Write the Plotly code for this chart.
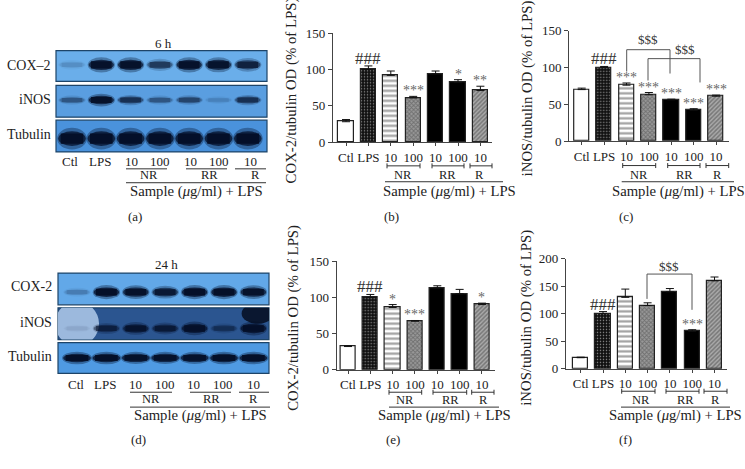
import plotly.graph_objects as go

W, H = 745, 469
FONT = "Liberation Serif"

# ---- data ----
lanes = ["Ctl", "LPS", "10", "100", "10", "100", "10"]
cox2_6h = [28, 100, 92, 61, 94, 82, 71]
cox2_6h_err = [3, 5, 6, 2, 4, 4, 6]
cox2_6h_sig = ["", "###", "", "***", "", "*", "**"]
inos_6h = [70, 100, 76, 63, 56, 42, 61]
inos_6h_err = [2, 1.5, 3, 3, 1, 2, 1.5]
inos_6h_sig = ["", "###", "***", "***", "***", "***", "***"]
cox2_24h = [32, 100, 86, 67, 113, 105, 90]
cox2_24h_err = [1, 4, 4, 1, 3, 6, 2]
cox2_24h_sig = ["", "###", "*", "***", "", "", "*"]
inos_24h = [20, 100, 130, 115, 140, 68, 160]
inos_24h_err = [1, 4, 15, 5, 6, 3, 7]
inos_24h_sig = ["", "###", "", "", "", "***", ""]

# band strength per lane, read from the blots
blot_6h_cox2 = [0.1, 0.95, 0.95, 0.5, 0.95, 0.9, 0.7]
blot_6h_inos = [0.3, 0.95, 0.55, 0.3, 0.4, 0.1, 0.55]
blot_6h_tub = [1, 1, 1, 1, 1, 1, 1]
blot_24h_cox2 = [0.15, 1, 0.95, 0.8, 1, 1, 0.95]
blot_24h_inos = [0.05, 0.55, 0.8, 0.65, 0.95, 0.35, 1]
blot_24h_tub = [1, 1, 0.95, 0.95, 0.95, 1, 1]

fig = go.Figure()
shapes, annos = [], []
ax_n = [0]
layout_axes = {}


def X(p):
    return p / W


def Y(p):
    return 1 - ((p - 6) / 0.975) / H


def txt(px, py, s, size=13, color="#222", angle=0, xanchor="center"):
    annos.append(dict(x=X(px), y=Y(py), xref="paper", yref="paper", text=s, showarrow=False,
                      font=dict(family=FONT, size=size, color=color), textangle=angle,
                      xanchor=xanchor, yanchor="middle", borderpad=0))


def seg(x0, y0, x1, y1, color="#333", width=1):
    shapes.append(dict(type="line", xref="paper", yref="paper", x0=X(x0), x1=X(x1),
                       y0=Y(y0), y1=Y(y1), line=dict(color=color, width=width)))


def strip(strengths, lane0, spacing, left, right, top, bottom, bg, thick=0.15, halfw=0.43,
          band="#040f28", cy=0.52, patches=()):
    ax_n[0] += 1
    n = ax_n[0]
    sx = "" if n == 1 else str(n)
    xr = [(left - lane0) / spacing, (right - lane0) / spacing]
    layout_axes[f"xaxis{sx}"] = dict(domain=[X(left), X(right)], range=xr, visible=False, anchor=f"y{sx}")
    layout_axes[f"yaxis{sx}"] = dict(domain=[Y(bottom), Y(top)], range=[0, 1], visible=False, anchor=f"x{sx}")
    xref, yref = f"x{sx}", f"y{sx}"
    fig.add_trace(go.Scatter(x=list(range(len(strengths))), y=[cy] * len(strengths), mode="markers",
                             marker=dict(opacity=0), xaxis=xref, yaxis=yref, showlegend=False,
                             hoverinfo="skip"))
    shapes.append(dict(type="rect", xref=f"{xref} domain", yref=f"{yref} domain", x0=0, x1=1, y0=0, y1=1,
                       fillcolor=bg, line=dict(color="#1d4468", width=1.2), layer="below"))
    for (px0, px1, py0, py1, col, alpha) in patches:
        shapes.append(dict(type="circle", xref=xref, yref=yref, x0=px0, x1=px1, y0=py0, y1=py1,
                           fillcolor=col, opacity=alpha, line=dict(width=0), layer="below"))
    for i, s in enumerate(strengths):
        h = thick * (0.55 + 0.45 * s)
        shapes.append(dict(type="circle", xref=xref, yref=yref, x0=i - halfw * 1.08, x1=i + halfw * 1.08,
                           y0=cy - h * 1.7, y1=cy + h * 1.7, fillcolor=band, opacity=0.35 * s, line=dict(width=0)))
        shapes.append(dict(type="circle", xref=xref, yref=yref, x0=i - halfw, x1=i + halfw,
                           y0=cy - h * 1.15, y1=cy + h * 1.15, fillcolor=band, opacity=0.75 * s, line=dict(width=0)))
        shapes.append(dict(type="rect", xref=xref, yref=yref, x0=i - halfw * 0.82, x1=i + halfw * 0.82,
                           y0=cy - h * 0.8, y1=cy + h * 0.8, fillcolor=band, opacity=0.95 * s, line=dict(width=0)))


def bars(vals, errs, sig, lane0, spacing, left, right, y0px, ytop, ymax, tickv):
    ax_n[0] += 1
    n = ax_n[0]
    sx = "" if n == 1 else str(n)
    xr = [(left - lane0) / spacing, (right - lane0) / spacing]
    tickfont = dict(family=FONT, size=13, color="#222")
    layout_axes[f"xaxis{sx}"] = dict(domain=[X(left), X(right)], range=xr, anchor=f"y{sx}", tickmode="array",
                                     tickvals=list(range(7)), ticktext=lanes, tickangle=0, ticks="outside",
                                     ticklen=3, tickcolor="#444", showline=True, linecolor="#444", linewidth=1.2,
                                     showgrid=False, zeroline=False, tickfont=tickfont)
    layout_axes[f"yaxis{sx}"] = dict(domain=[Y(y0px), Y(ytop)], range=[0, ymax], anchor=f"x{sx}", tickmode="array",
                                     tickvals=tickv, ticks="outside", ticklen=4, tickcolor="#444",
                                     showline=True, linecolor="#444", linewidth=1.2, showgrid=False,
                                     zeroline=False, tickfont=tickfont)
    fig.add_trace(go.Bar(
        x=list(range(7)), y=vals, width=0.68, xaxis=f"x{sx}", yaxis=f"y{sx}", showlegend=False,
        error_y=dict(type="data", array=errs, arrayminus=[0] * 7, color="#111", thickness=1, width=4),
        marker=dict(
            color=["white", "#111", "white", "#999", "#000", "#000", "#aaa"],
            line=dict(color="#222", width=1.2),
            pattern=dict(
                shape=["", ".", "-", "x", "", "", "/"],
                fgcolor=["#000", "#aaa", "#111", "#222", "#000", "#000", "#222"],
                bgcolor=["white", "#111", "white", "#bbb", "#000", "#000", "#bbb"],
                size=[4, 3, 5, 3, 4, 4, 3],
                solidity=[0.3, 0.2, 0.45, 0.5, 0.3, 0.3, 0.5],
            ),
        ),
    ))
    for i, s in enumerate(sig):
        if s:
            annos.append(dict(x=i, y=vals[i] + errs[i], xref=f"x{sx}", yref=f"y{sx}", text=s, showarrow=False,
                              yanchor="bottom", yshift=-3, borderpad=0,
                              font=dict(family=FONT, size=17 if s[0] == "#" else 14,
                                        color="#333" if s[0] == "#" else "#666")))


def capped(x0, x1, y):
    seg(x0, y, x1, y, "#333", 1)
    seg(x0, y - 2.5, x0, y + 2.5, "#333", 1)
    seg(x1, y - 2.5, x1, y + 2.5, "#333", 1)


SAMPLE = "Sample (<i>μ</i>g/ml) + LPS"
GS = 14.7
NS = 12.5

# ---- panel (a) ----
strip(blot_6h_cox2, 72, 29.3, 56, 267, 50, 81, "#6aaeea", thick=0.15, cy=0.54)
strip(blot_6h_inos, 72, 29.3, 56, 267, 85, 117, "#5a9ee0", thick=0.12, cy=0.54)
strip(blot_6h_tub, 72, 29.3, 56, 267, 120, 152, "#4a92dc", thick=0.2, halfw=0.47, cy=0.42)
txt(163, 43, "6 h", 13)
for s, y in (("COX–2", 65), ("iNOS", 99), ("Tubulin", 134)):
    txt(52, y, s, 14, xanchor="right")
for s, x in zip(lanes, (70, 100, 131, 160, 190, 219, 250)):
    txt(x, 162, s, 13)
for a, b in ((126, 167), (186, 227), (235, 266)):
    seg(a, 169, b, 169)
for s, x in (("NR", 149), ("RR", 209), ("R", 255)):
    txt(x, 175, s, NS)
seg(126, 183, 266, 183)
txt(196, 191.5, SAMPLE, GS)
txt(135, 217, "(a)", 13)

# ---- panel (d) ----
strip(blot_24h_cox2, 77, 29.4, 58, 269, 274, 306, "#62a8e8", thick=0.13, cy=0.4)
strip(blot_24h_inos, 77, 29.4, 58, 269, 309, 341, "#2b5590", thick=0.13, cy=0.35,
      patches=((-0.75, 0.75, -0.2, 1.2, "#a8c4e6", 0.9), (5.6, 6.7, 0.5, 1.15, "#050d20", 0.85)))
strip(blot_24h_tub, 77, 29.4, 58, 269, 344, 375, "#4f9ae2", thick=0.12, halfw=0.47, cy=0.5)
txt(166, 265, "24 h", 13)
for s, y in (("COX-2", 288), ("iNOS", 324), ("Tubulin", 358)):
    txt(53, y, s, 14, xanchor="right")
for s, x in zip(lanes, (76, 105, 135, 165, 194, 223, 253)):
    txt(x, 386, s, 13)
for a, b in ((130, 172), (190, 231), (239, 269)):
    seg(a, 394, b, 394)
for s, x in (("NR", 151), ("RR", 211), ("R", 254)):
    txt(x, 401, s, NS)
seg(130, 409, 270, 409)
txt(201, 417.5, SAMPLE, GS)
txt(138, 442, "(d)", 13)

# ---- panel (b) ----
bars(cox2_6h, cox2_6h_err, cox2_6h_sig, 346, 22.4, 333, 492, 142, 32.5, 150, [0, 50, 100, 150])
txt(291, 90, "COX-2/tubulin OD (% of LPS)", 14.8, angle=-90)
for a, b in ((387, 420), (432, 464), (470, 492)):
    capped(a, b, 166)
for s, x in (("NR", 403), ("RR", 448), ("R", 480)):
    txt(x, 175.5, s, NS)
seg(385, 182, 503, 182)
txt(449, 191.5, SAMPLE, GS)
txt(391, 217, "(b)", 13)

# ---- panel (c) ----
bars(inos_6h, inos_6h_err, inos_6h_sig, 581.7, 22.4, 569.3, 729, 141, 30, 150, [0, 50, 100, 150])
txt(527, 88, "iNOS/tubulin OD (% of LPS)", 14.8, angle=-90)
for a, b in ((622.7, 655.7), (667.7, 700), (706, 728.7)):
    capped(a, b, 165.7)
for s, x in (("NR", 639), ("RR", 684), ("R", 717)):
    txt(x, 175, s, NS)
seg(621.7, 182, 734, 182)
txt(678, 191.5, SAMPLE, GS)
txt(626, 217, "(c)", 13)
G = "#555"
seg(626.7, 71, 626.7, 49, G); seg(626.7, 49, 670, 49, G); seg(670, 49, 670, 73, G)
seg(648, 80, 648, 58, G); seg(648, 58, 700, 58, G); seg(700, 58, 700, 82, G)
txt(648, 39, "$$$", 13, "#333")
txt(685, 49, "$$$", 13, "#333")

# ---- panel (e) ----
bars(cox2_24h, cox2_24h_err, cox2_24h_sig, 348, 22.33, 336.7, 495, 371.3, 262, 150, [0, 50, 100, 150])
txt(294, 319, "COX-2/tubulin OD (% of LPS)", 14.8, angle=-90)
for a, b in ((389, 421.7), (433, 466.7), (471.7, 494)):
    capped(a, b, 394)
for s, x in (("NR", 405), ("RR", 450), ("R", 483)):
    txt(x, 402, s, NS)
seg(389, 409, 499, 409)
txt(444, 417.5, SAMPLE, GS)
txt(393, 442, "(e)", 13)

# ---- panel (f) ----
bars(inos_24h, inos_24h_err, inos_24h_sig, 580.7, 22.3, 566, 727, 370.3, 259.7, 200, [0, 50, 100, 150, 200])
txt(527, 319, "iNOS/tubulin OD (% of LPS)", 14.8, angle=-90)
for a, b in ((621.7, 655), (666, 699), (704, 727)):
    capped(a, b, 393)
for s, x in (("NR", 640.7), ("RR", 685), ("R", 715)):
    txt(x, 402, s, NS)
seg(621, 409, 730, 409)
txt(675, 417.5, SAMPLE, GS)
txt(625, 442, "(f)", 13)
seg(647, 300, 647, 275, G); seg(647, 275, 692, 275, G); seg(692, 275, 692, 311, G)
txt(669, 267, "$$$", 13, "#333")

fig.update_layout(width=W, height=H, margin=dict(l=0, r=0, t=0, b=0), paper_bgcolor="white",
                  plot_bgcolor="white", showlegend=False, shapes=shapes, annotations=annos,
                  font=dict(family=FONT), bargap=0, **layout_axes)
fig.write_html("out.html", config=dict(displayModeBar=False),
               post_script="document.body.style.margin='0';document.documentElement.style.overflow='hidden';")
